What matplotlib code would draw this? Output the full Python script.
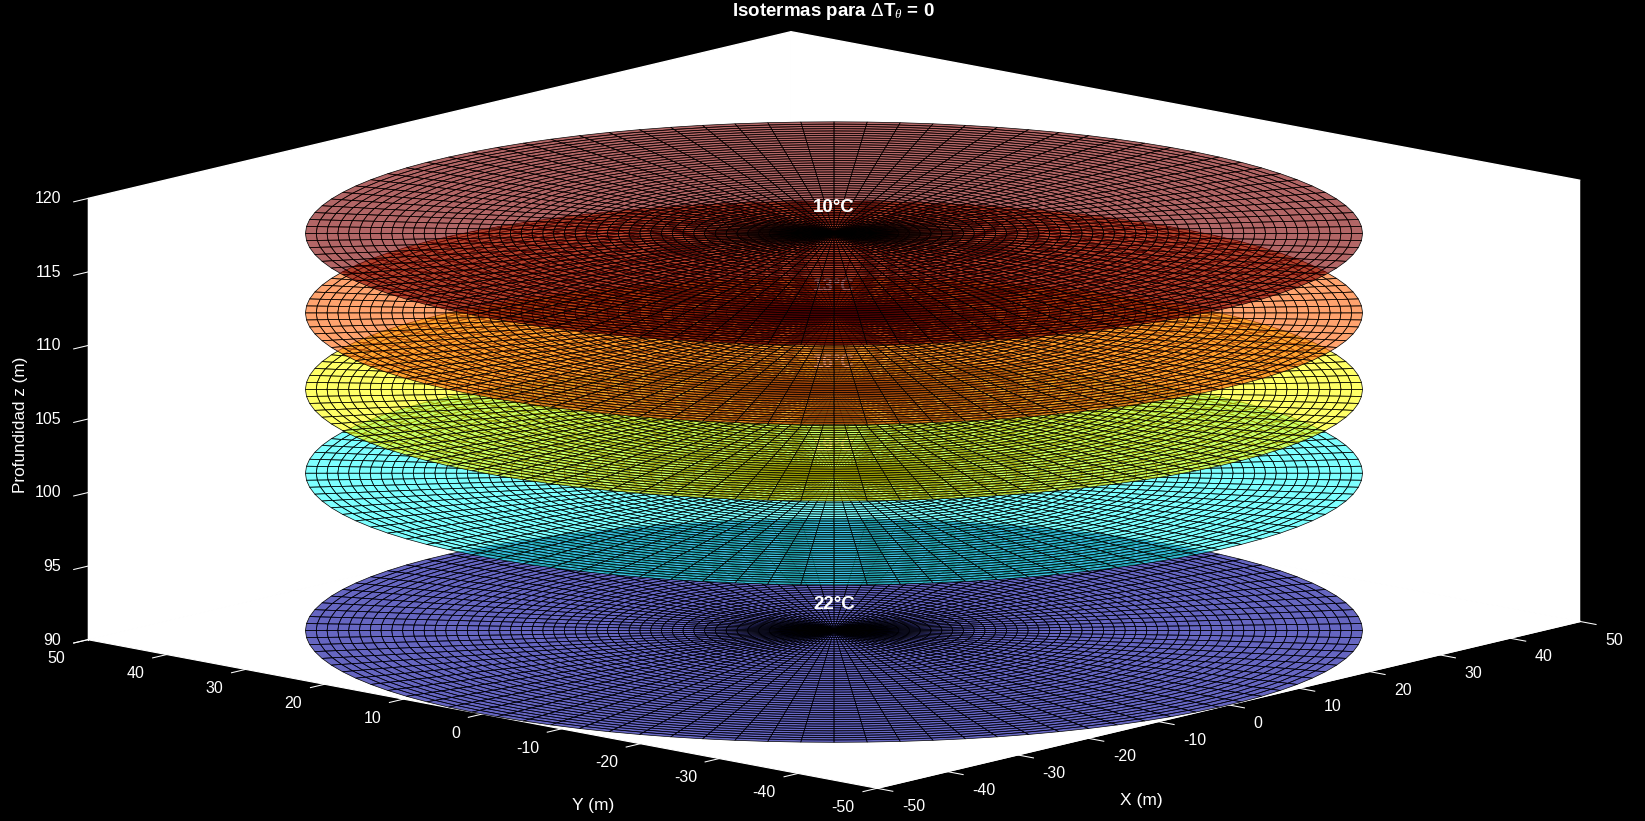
import numpy as np
import matplotlib
matplotlib.use("Agg")
import matplotlib.pyplot as plt

plt.rcParams['font.family'] = ['Liberation Sans', 'DejaVu Sans']
plt.rcParams['mathtext.fontset'] = 'custom'
plt.rcParams['mathtext.rm'] = 'Liberation Sans'
plt.rcParams['mathtext.it'] = 'Liberation Serif:italic'
plt.rcParams['mathtext.bf'] = 'Liberation Sans:bold'
plt.rcParams['axes.unicode_minus'] = False

# Isotherm discs, top to bottom
temperatures = [10, 13, 16, 19, 22]
depths = [117.0, 111.6, 106.4, 100.7, 90.0]
disc_colors = [(0.5, 0.0, 0.0), (1.0, 0.4, 0.05), (1.0, 1.0, 0.0), (0.15, 1.0, 1.0), (0.0, 0.0, 0.6)]

radius = 50
n_rings = 49
n_spokes = 100

xy_ticks = [-50, -40, -30, -20, -10, 0, 10, 20, 30, 40, 50]
z_ticks = [90, 95, 100, 105, 110, 115, 120]

ELEV = 12.2
AZIM = -138.3
FIG_W, FIG_H = 1645, 821
AX_SIZE = 1516   # pixels, the 3d axes stay square so they overrun the figure
CENTER_X, CENTER_Y = 834, 411


def draw_discs(ax):
    r = np.linspace(0, radius, n_rings + 1)
    theta = np.radians(np.linspace(0, 360, n_spokes + 1) + AZIM)
    rr, tt = np.meshgrid(r, theta)
    xx = rr * np.cos(tt)
    yy = rr * np.sin(tt)
    n = len(temperatures)
    for i, (temp, depth, col) in enumerate(zip(temperatures, depths, disc_colors)):
        order = (n - i) * 2
        ax.plot_surface(xx, yy, np.full_like(xx, depth), rstride=1, cstride=1,
                        color=col + (0.6,), edgecolor='k', linewidth=0.5,
                        antialiased=True, shade=False, zorder=order)
        ax.text(0, 0, depth + 1.8, f"{temp}°C", color='w', fontsize=13.5, fontweight='bold',
                ha='center', va='center', zorder=order + 1)


def style_axes(ax):
    ax.set_xlim(-50, 50, view_margin=0)
    ax.set_ylim(-50, 50, view_margin=0)
    ax.set_zlim(90, 120, view_margin=0)
    ax.set_xticks(xy_ticks)
    ax.set_yticks(xy_ticks)
    ax.set_zticks(z_ticks)
    ax.grid(False)
    ax.set_facecolor('k')
    for axis in (ax.xaxis, ax.yaxis, ax.zaxis):
        axis.set_pane_color('w')
        axis.pane.set_edgecolor('w')
        axis.line.set_color('w')
        axis._axinfo['tick']['inward_factor'] = 0.25
        axis._axinfo['tick']['outward_factor'] = 0.0
        axis._axinfo['tick']['linewidth'] = {True: 0.75, False: 0.5}
    ax.tick_params(colors='w', labelsize=11.5, pad=10)
    ax.zaxis.set_ticks_position('upper')
    ax.zaxis.set_tick_params(pad=2)
    for lbl in ax.xaxis.get_ticklabels():
        lbl.set_ha('left')
        lbl.set_va('center')
    for lbl in ax.yaxis.get_ticklabels():
        lbl.set_ha('right')
        lbl.set_va('center')
    for lbl in ax.zaxis.get_ticklabels():
        lbl.set_ha('right')
        lbl.set_va('center')


def main():
    fig = plt.figure(figsize=(FIG_W / 100, FIG_H / 100), dpi=100, facecolor='k')
    # 2d limits of a 3d axes run from -0.95/dist to 0.9/dist
    f = 0.95 / 1.85
    rect = [(CENTER_X - f * AX_SIZE) / FIG_W, (CENTER_Y - f * AX_SIZE) / FIG_H,
            AX_SIZE / FIG_W, AX_SIZE / FIG_H]
    ax = fig.add_axes(rect, projection='3d', computed_zorder=False)
    ax.set_proj_type('ortho')
    ax.view_init(elev=ELEV, azim=AZIM)
    ax.set_box_aspect((100, 100, 42.7))

    draw_discs(ax)
    style_axes(ax)

    fig.text(833 / FIG_W, 1 - 11 / FIG_H, r"Isotermas para $\Delta$T$_{\theta}$ = 0", color='w',
             fontsize=13.5, fontweight='bold', ha='center', va='center')
    fig.text(593 / FIG_W, 1 - 805 / FIG_H, "Y (m)", color='w', fontsize=12.5, ha='center', va='center')
    fig.text(1141 / FIG_W, 1 - 800 / FIG_H, "X (m)", color='w', fontsize=12.5, ha='center', va='center')
    fig.text(21 / FIG_W, 1 - 425 / FIG_H, "Profundidad z (m)", color='w', fontsize=12.3,
             rotation=90, ha='center', va='center')

    fig.savefig("out.png", dpi=100, facecolor='k')


if __name__ == "__main__":
    main()
